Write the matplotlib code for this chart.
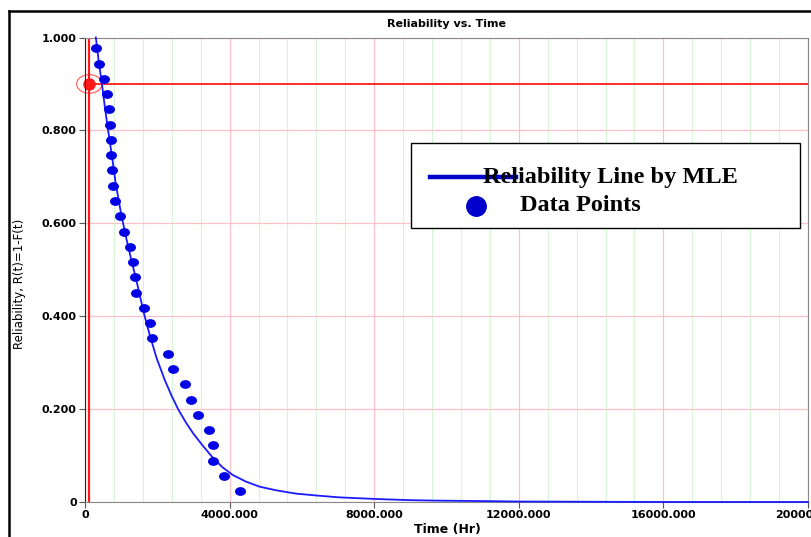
import matplotlib.pyplot as plt
from matplotlib.lines import Line2D
from matplotlib.markers import MarkerStyle
from matplotlib.patches import Rectangle, Ellipse
from matplotlib.transforms import Affine2D
from matplotlib.ticker import FixedLocator, FuncFormatter

# data points (time in hours, reliability)
time_pts = [303, 395, 532, 599, 654, 698, 709, 726, 753, 773,
            841, 974, 1068, 1242, 1324, 1380, 1415, 1620, 1802, 1857,
            2309, 2436, 2759, 2933, 3137, 3440, 3532, 3540, 3854, 4296]
rel_pts = [0.977, 0.944, 0.911, 0.878, 0.845, 0.812, 0.780, 0.747, 0.714, 0.681,
           0.648, 0.615, 0.582, 0.549, 0.516, 0.484, 0.451, 0.418, 0.385, 0.352,
           0.319, 0.286, 0.253, 0.220, 0.188, 0.155, 0.122, 0.089, 0.056, 0.023]

# MLE reliability line
time_line = [300, 380, 460, 550, 640, 750, 850, 1000, 1150, 1300, 1420, 1530,
             1650, 1800, 1980, 2210, 2400, 2575, 2800, 3000, 3250, 3540, 3800,
             4090, 4450, 4830, 5300, 5840, 6400, 7030, 7600, 8220, 9000, 9700,
             11000, 12000, 14000, 16000, 20000]
rel_line = [1.000, 0.948, 0.905, 0.850, 0.800, 0.742, 0.685, 0.620, 0.565, 0.515,
            0.478, 0.440, 0.400, 0.357, 0.310, 0.262, 0.228, 0.200, 0.170, 0.147,
            0.122, 0.095, 0.075, 0.058, 0.044, 0.033, 0.025, 0.018, 0.014, 0.010,
            0.008, 0.006, 0.004, 0.003, 0.002, 0.001, 0.0005, 0.000, 0.000]

# target point (red cross-hair)
t_target = 120
r_target = 0.90

x_ticks = [0, 4000, 8000, 12000, 16000, 20000]
y_ticks = [0, 0.2, 0.4, 0.6, 0.8, 1.0]

fig = plt.figure(figsize=(8.12, 5.37), dpi=100)
ax = fig.add_axes([85 / 812, 35 / 537, 723 / 812, 464.5 / 537])

ax.set_xlim(0, 20000)
ax.set_ylim(0, 1.0)

# grid: pink majors, light green minors on x
ax.xaxis.set_major_locator(FixedLocator(x_ticks))
ax.yaxis.set_major_locator(FixedLocator(y_ticks))
ax.xaxis.set_minor_locator(FixedLocator([x for x in range(800, 20000, 800) if x % 4000]))
ax.grid(which="major", color="#ffc0c8", lw=0.9)
ax.grid(which="minor", axis="x", color="#d6f5d6", lw=0.8)
ax.tick_params(which="minor", length=0)
ax.set_axisbelow(True)

ax.xaxis.set_major_formatter(FuncFormatter(lambda v, p: "0" if v == 0 else f"{v:.3f}"))
ax.yaxis.set_major_formatter(FuncFormatter(lambda v, p: "0" if v == 0 else f"{v:.3f}"))
ax.tick_params(which="major", length=4, color="#555555", labelsize=8, pad=2)
for lbl in ax.get_xticklabels() + ax.get_yticklabels():
    lbl.set_fontweight("bold")

for side in ["top", "right", "bottom"]:
    ax.spines[side].set_color("#888888")
ax.spines["left"].set_color("#222222")

# red cross-hair
ax.axvline(t_target, color="#ff1a1a", lw=1.6)
ax.axhline(r_target, color="#ff1a1a", lw=1.3)
ax.add_patch(Ellipse((t_target, r_target), 700, 0.04, fill=False,
                     edgecolor="#ff5555", lw=0.8, clip_on=False))
ax.plot([t_target], [r_target], "o", color="#ff1a1a", ms=8, clip_on=False)

# reliability line and data points
ax.plot(time_line, rel_line, color="#1a1aff", lw=1.3, clip_on=False, zorder=4)
ell = MarkerStyle("o", transform=Affine2D().scale(1.3, 1.0))
ax.plot(time_pts, rel_pts, ls="none", marker=ell, ms=5.3, color="#0000e6", zorder=5)

fig.text(447 / 812, 1 - 24 / 537, "Reliability vs. Time", ha="center", va="center",
         fontsize=8, fontweight="bold")
fig.text(447 / 812, 1 - 529 / 537, "Time (Hr)", ha="center", va="center",
         fontsize=9, fontweight="bold")
fig.text(20 / 812, 1 - 284 / 537, "Reliability, R(t)=1-F(t)", ha="center", va="center",
         rotation=90, fontsize=8.5)

# outer frame lines
fig.add_artist(Line2D([9 / 812, 1], [1 - 11 / 537, 1 - 11 / 537], color="black", lw=1.8))
fig.add_artist(Line2D([9 / 812, 9 / 812], [0, 1 - 11 / 537], color="black", lw=1.8))

# legend box
fig.add_artist(Rectangle((411 / 812, 1 - 228 / 537), 389 / 812, 85 / 537,
                         facecolor="white", edgecolor="black", lw=1, zorder=10))
fig.add_artist(Line2D([430 / 812, 516 / 812], [1 - 177 / 537, 1 - 177 / 537],
                      color="#0000cc", lw=3.2, zorder=11))
fig.add_artist(Line2D([476 / 812], [1 - 206 / 537], marker="o", ms=14,
                      color="#0000cc", ls="none", zorder=11))
fig.text(483 / 812, 1 - 178 / 537, "Reliability Line by MLE", ha="left", va="center",
         fontsize=17.5, fontweight="bold", family="Liberation Serif", zorder=12)
fig.text(520 / 812, 1 - 206 / 537, "Data Points", ha="left", va="center",
         fontsize=17.5, fontweight="bold", family="Liberation Serif", zorder=12)

fig.savefig("out.png", dpi=100)
